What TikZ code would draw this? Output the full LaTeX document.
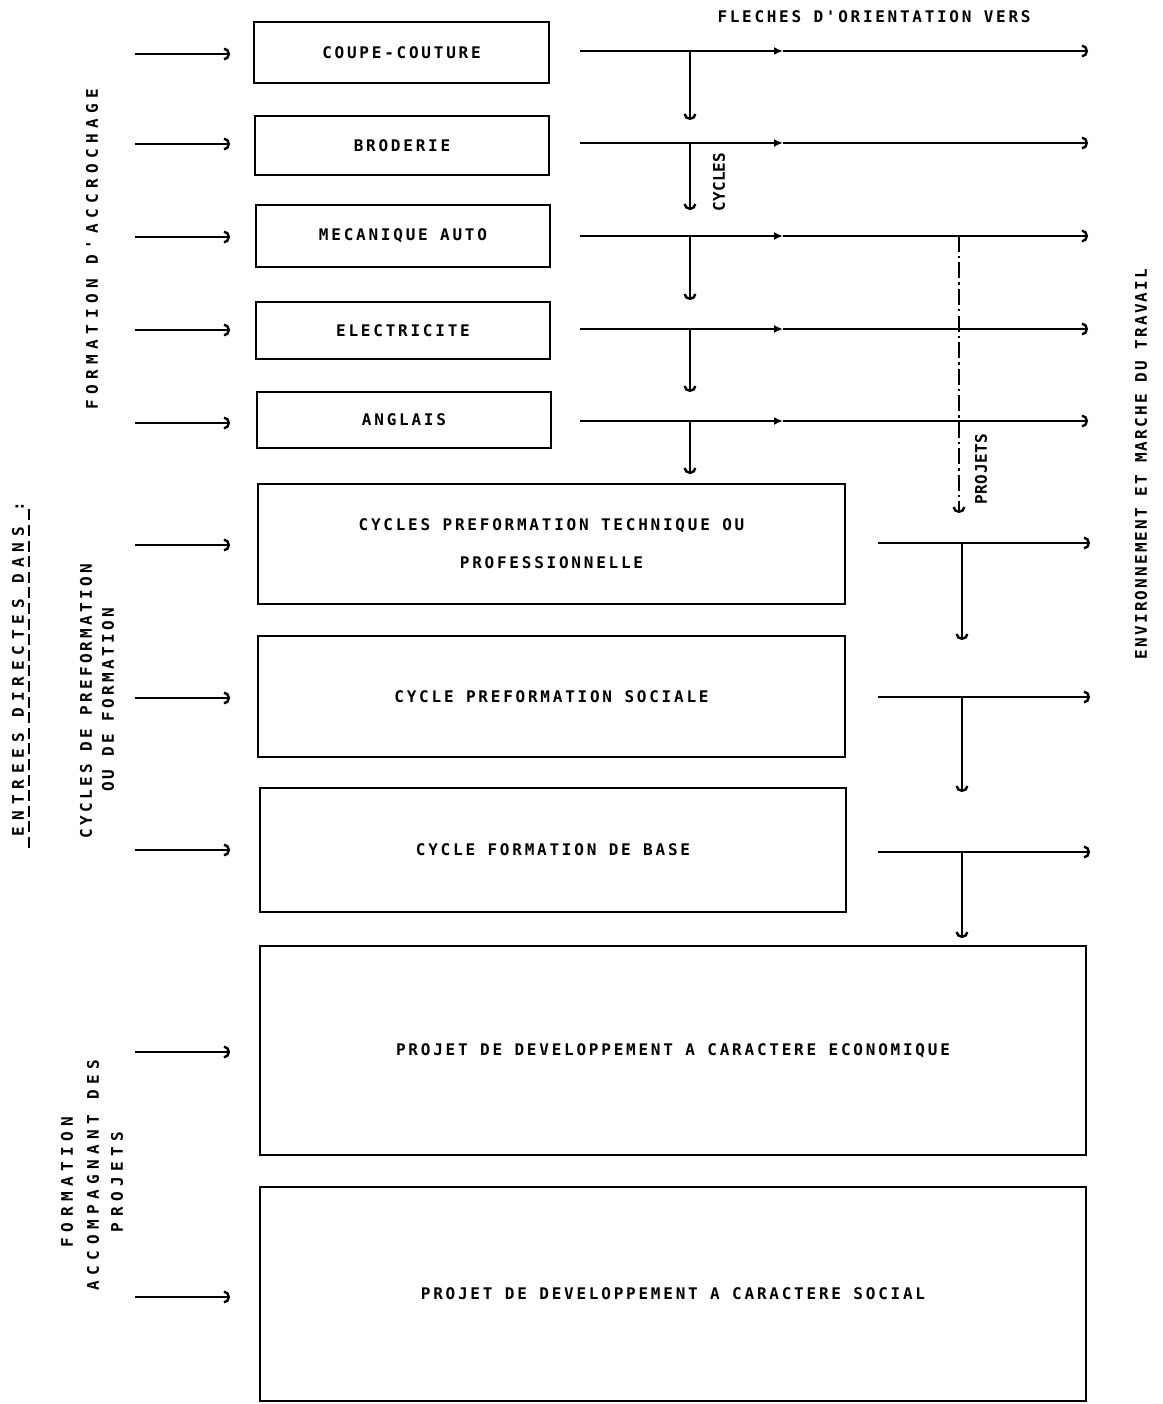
\documentclass[tikz,border=0pt]{standalone}
\usepackage{fontspec}
\usetikzlibrary{arrows.meta}
\newfontfamily\dvmono{DejaVu Sans Mono}
\newcommand\ltr[2][16]{\dvmono\bfseries\fontsize{#1}{#1}\selectfont\addfontfeature{LetterSpace=#2}}
\tikzset{
  bx/.style={draw, line width=2.4pt, inner sep=0pt, font=\ltr{17.3}, align=center},
  ln/.style={line width=2.2pt},
  tip/.style={ln, -{Arc Barb[length=6pt,width=13pt,line width=2.4pt]}},
  midtip/.style={ln, -{Latex[length=9pt,width=8pt]}},
  lab/.style={inner sep=0pt, rotate=90},
  dashdot/.style={ln, dash pattern=on 16pt off 4pt on 2.5pt off 4pt},
}
\begin{document}
\begin{tikzpicture}[x=1pt,y=-1pt]
\useasboundingbox (0,0) rectangle (1162,1404);
% small boxes
\node[bx, minimum width=295pt, minimum height=61pt] (b1) at (401.5,52.5) {COUPE-COUTURE};
\node[bx, minimum width=294pt, minimum height=59pt] (b2) at (402,145.5) {BRODERIE};
\node[bx, minimum width=294pt, minimum height=62pt] (b3) at (403,236) {MECANIQUE AUTO};
\node[bx, minimum width=294pt, minimum height=57pt] (b4) at (403,330.5) {ELECTRICITE};
\node[bx, minimum width=294pt, minimum height=56pt] (b5) at (404,420) {ANGLAIS};
% cycle boxes
\node[bx, minimum width=587pt, minimum height=120pt] (c1) at (551.5,544) {CYCLES PREFORMATION TECHNIQUE OU\\[22pt]PROFESSIONNELLE};
\node[bx, minimum width=587pt, minimum height=121pt] (c2) at (551.5,696.5) {CYCLE PREFORMATION SOCIALE};
\node[bx, minimum width=586pt, minimum height=124pt] (c3) at (553,850) {CYCLE FORMATION DE BASE};
% project boxes
\node[bx, minimum width=826pt, minimum height=209pt] (p1) at (673,1050.5) {PROJET DE DEVELOPPEMENT A CARACTERE ECONOMIQUE};
\node[bx, minimum width=826pt, minimum height=214pt] (p2) at (673,1294) {PROJET DE DEVELOPPEMENT A CARACTERE SOCIAL};

% left entry arrows
\foreach \n/\y in {1/54,2/144,3/237,4/330,5/423,6/545,7/698,8/850,9/1052,10/1297}{
  \coordinate (la\n) at (135,\y);
  \coordinate (lb\n) at (230,\y);
  \draw[tip] (la\n) -- (lb\n);
}

% right orientation arrows from small boxes
\foreach \n/\y/\d in {1/51/120,2/143/210,3/236/300,4/329/392,5/421/474}{
  \coordinate (s\n) at (580,\y);
  \coordinate (m\n) at (783,\y);
  \coordinate (e\n) at (1088,\y);
  \coordinate (v\n) at (690,\y);
  \coordinate (d\n) at (690,\d);
  \draw[midtip] (s\n) -- (m\n);
  \draw[tip] (m\n) -- (e\n);
  \draw[tip] (v\n) -- (d\n);
}
% dash-dot PROJETS line
\coordinate (pj) at (959,236);
\coordinate (pjend) at (959,513);
\draw[dashdot, -{Arc Barb[length=6pt,width=13pt,line width=2.4pt]}] (pj) -- (pjend);
\node[lab, font=\ltr{4}] (projlab) at (981,469) {PROJETS};
\node[lab, font=\ltr{1}] (cyclab) at (719,182) {CYCLES};

% right arrows from cycle boxes
\foreach \n/\y/\d in {6/543/640,7/697/792,8/852/938}{
  \coordinate (s\n) at (878,\y);
  \coordinate (e\n) at (1090,\y);
  \coordinate (v\n) at (962,\y);
  \coordinate (d\n) at (962,\d);
  \draw[tip] (s\n) -- (e\n);
  \draw[tip] (v\n) -- (d\n);
}

% labels
\node[inner sep=0pt, font=\ltr{17}] (fleches) at (874,17) {FLECHES D'ORIENTATION VERS};
\node[lab, font=\ltr{13.5}] (env) at (1141,464) {ENVIRONNEMENT ET MARCHE DU TRAVAIL};
\node[lab, font=\ltr{34}] (facc) at (92,249) {FORMATION D'ACCROCHAGE};
\node[lab, font=\ltr{37}] (ent) at (18,669) {ENTREES DIRECTES DANS :};
\draw[ln, line width=1.5pt, dash pattern=on 11pt off 4.6pt] (29,848) -- (29,506);
\node[lab, font=\ltr{20.5}] (cyc) at (86,701) {CYCLES DE PREFORMATION};
\node[lab, font=\ltr{20.5}] (oudf) at (108,700) {OU DE FORMATION};
\node[lab, font=\ltr{34}] (fform) at (67,1182) {FORMATION};
\node[lab, font=\ltr{34}] (facp) at (93,1175) {ACCOMPAGNANT DES};
\node[lab, font=\ltr{34}] (fproj) at (117,1182) {PROJETS};
\end{tikzpicture}
\end{document}
